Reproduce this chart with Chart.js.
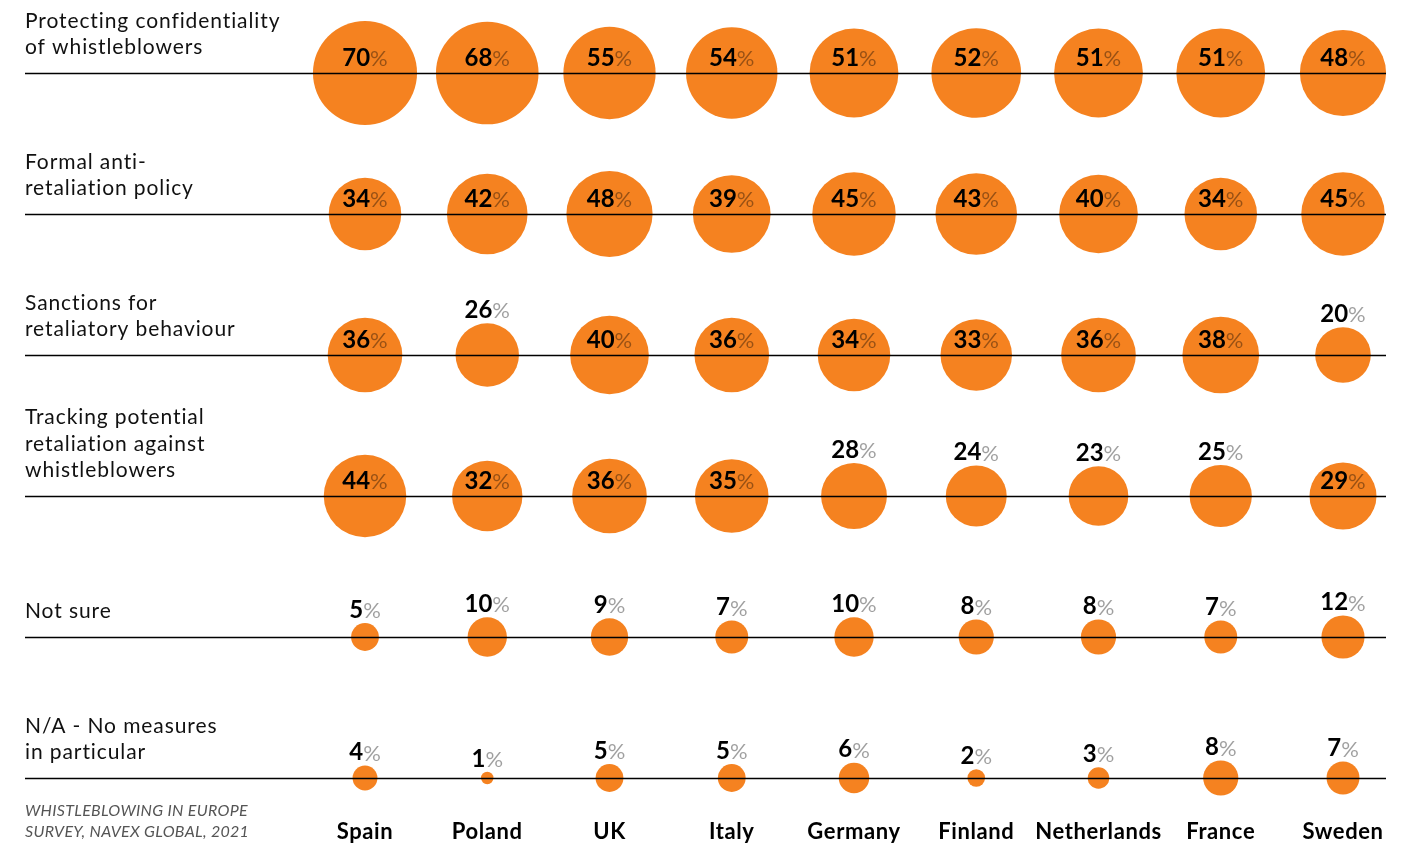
<!DOCTYPE html>
<html>
<head>
<meta charset="utf-8">
<script src="https://cdn.jsdelivr.net/npm/chart.js@4.4.1/dist/chart.umd.min.js"></script>
<style>
  html, body { margin: 0; padding: 0; background: #ffffff; }
  #wrap { width: 1414px; height: 845px; position: relative; }
</style>
</head>
<body>
<div id="wrap"><canvas id="c"></canvas></div>
<script>
// ---- Data ----
const countries = ['Spain', 'Poland', 'UK', 'Italy', 'Germany', 'Finland', 'Netherlands', 'France', 'Sweden'];
const measureKeys = ['protecting', 'antiRetaliation', 'sanctions', 'tracking', 'notSure', 'noMeasures'];
const measureLabels = [
  ['Protecting confidentiality', 'of whistleblowers'],
  ['Formal anti-', 'retaliation policy'],
  ['Sanctions for', 'retaliatory behaviour'],
  ['Tracking potential', 'retaliation against', 'whistleblowers'],
  ['Not sure'],
  ['N/A - No measures', 'in particular']
];
const protecting      = [70, 68, 55, 54, 51, 52, 51, 51, 48];
const antiRetaliation = [34, 42, 48, 39, 45, 43, 40, 34, 45];
const sanctions       = [36, 26, 40, 36, 34, 33, 36, 38, 20];
const tracking        = [44, 32, 36, 35, 28, 24, 23, 25, 29];
const notSure         = [5, 10, 9, 7, 10, 8, 8, 7, 12];
const noMeasures      = [4, 1, 5, 5, 6, 2, 3, 8, 7];
const sourceLines = ['WHISTLEBLOWING IN EUROPE', 'SURVEY, NAVEX GLOBAL, 2021'];

const seriesValues = [protecting, antiRetaliation, sanctions, tracking, notSure, noMeasures];

// ---- Styling ----
const ORANGE = '#F58220';
const FONT = 'Lato, "Open Sans", sans-serif';
const RADIUS_K = 6.22;      // px per sqrt(percent)
const INSIDE_MIN = 29;      // values >= this get their label inside the bubble

const datasets = seriesValues.map((vals, i) => ({
  label: measureKeys[i],
  data: vals.map((v, j) => ({ x: countries[j], y: measureKeys[i], r: RADIUS_K * Math.sqrt(v), v: v })),
  backgroundColor: ORANGE,
  borderWidth: 0,
  clip: false
}));

function setSpacing(ctx, px) {
  if ('letterSpacing' in ctx) ctx.letterSpacing = px + 'px';
}

const decorPlugin = {
  id: 'decor',
  afterDatasetsDraw(chart) {
    const ctx = chart.ctx;
    const xs = chart.scales.x, ys = chart.scales.y;
    const lineLeft = 25, lineRight = 1386;
    ctx.save();
    // Row lines and row labels
    measureKeys.forEach((k, i) => {
      const y = Math.round(ys.getPixelForValue(i)) + 0.5;
      ctx.beginPath();
      ctx.strokeStyle = '#000000';
      ctx.lineWidth = 1.4;
      ctx.moveTo(lineLeft, y);
      ctx.lineTo(lineRight, y);
      ctx.stroke();
      const lines = measureLabels[i];
      ctx.fillStyle = '#111111';
      ctx.font = '21px ' + FONT;
      setSpacing(ctx, 0.9);
      ctx.textAlign = 'left';
      ctx.textBaseline = 'middle';
      lines.forEach((t, li) => {
        const off = 26 + (lines.length - 1 - li) * 26.5;
        ctx.fillText(t, lineLeft, y - off);
      });
    });
    setSpacing(ctx, 0);
    // Value labels
    chart.data.datasets.forEach((ds, di) => {
      const meta = chart.getDatasetMeta(di);
      meta.data.forEach((el, j) => {
        const v = ds.data[j].v;
        const r = el.options.radius;
        const numTxt = String(v);
        ctx.font = 'bold 24px ' + FONT;
        const wNum = ctx.measureText(numTxt).width;
        ctx.font = '22px ' + FONT;
        const wPct = ctx.measureText('%').width;
        const total = wNum + wPct;
        const ty = v >= INSIDE_MIN ? el.y - 15 : el.y - r - 13;
        const x0 = el.x - total / 2;
        ctx.textAlign = 'left';
        ctx.textBaseline = 'middle';
        ctx.font = 'bold 24px ' + FONT;
        ctx.fillStyle = '#000000';
        ctx.fillText(numTxt, x0, ty);
        ctx.font = '22px ' + FONT;
        ctx.fillStyle = 'rgba(0,0,0,0.38)';
        ctx.fillText('%', x0 + wNum, ty + 1);
      });
    });
    // Country labels
    ctx.font = 'bold 22px ' + FONT;
    setSpacing(ctx, 0.6);
    ctx.fillStyle = '#000000';
    ctx.textAlign = 'center';
    ctx.textBaseline = 'middle';
    countries.forEach((c, j) => {
      ctx.fillText(c, xs.getPixelForValue(j), chart.chartArea.bottom + 54);
    });
    // Source
    ctx.font = 'italic 16px ' + FONT;
    setSpacing(ctx, 0.3);
    ctx.fillStyle = '#555555';
    ctx.textAlign = 'left';
    sourceLines.forEach((t, li) => {
      ctx.fillText(t, lineLeft, chart.chartArea.bottom + 33 + li * 21);
    });
    ctx.restore();
  }
};

new Chart(document.getElementById('c'), {
  type: 'bubble',
  data: { datasets },
  options: {
    responsive: true,
    maintainAspectRatio: false,
    animation: false,
    events: [],
    layout: { autoPadding: false, padding: { left: 365, right: 71, top: 73, bottom: 67 } },
    scales: {
      x: { type: 'category', labels: countries, offset: false, display: false },
      y: { type: 'category', labels: measureKeys, offset: false, display: false }
    },
    plugins: { legend: { display: false }, tooltip: { enabled: false } }
  },
  plugins: [decorPlugin]
});
</script>
</body>
</html>
